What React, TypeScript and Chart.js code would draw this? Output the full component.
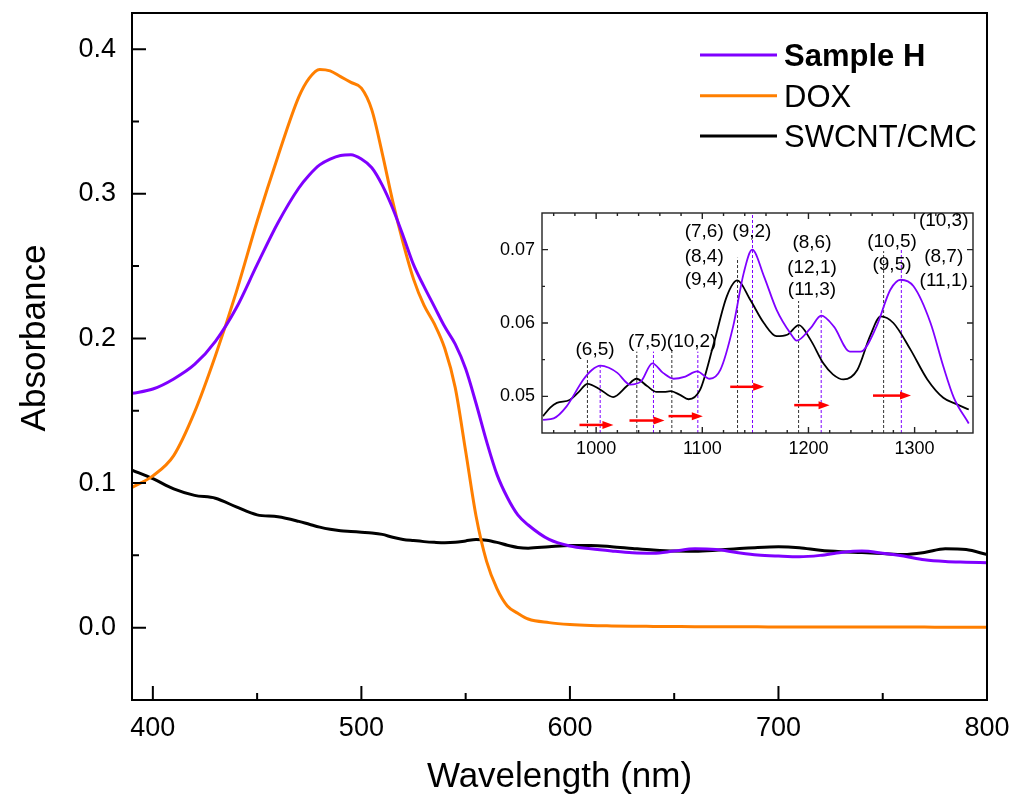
import React, { useEffect, useRef } from "react";
import { Chart, registerables } from "chart.js";
Chart.register(...registerables);

const FONT = 'Arial, "Liberation Sans", sans-serif';
const PURPLE = "#7F00FF";
const ORANGE = "#FF7F00";
const BLACK = "#000000";

// ---------- main chart data ----------
const WL = [390, 400, 410, 420, 430, 440, 450, 460, 470, 475, 480, 485, 490, 495, 500, 505, 510, 515, 520, 525, 530, 535, 540, 545, 550, 555, 560, 565, 570, 575, 580, 590, 600, 610, 620, 630, 640, 650, 660, 670, 680, 690, 700, 710, 720, 730, 740, 750, 760, 770, 780, 790, 800];
const SAMPLE_H = [0.162, 0.165, 0.172, 0.182, 0.198, 0.221, 0.251, 0.28, 0.304, 0.313, 0.32, 0.324, 0.3265, 0.327, 0.324, 0.318, 0.306, 0.29, 0.271, 0.251, 0.236, 0.222, 0.208, 0.196, 0.179, 0.155, 0.129, 0.106, 0.09, 0.078, 0.071, 0.061, 0.0565, 0.0545, 0.053, 0.0518, 0.0515, 0.053, 0.0545, 0.054, 0.052, 0.0503, 0.0495, 0.049, 0.05, 0.052, 0.053, 0.0515, 0.0495, 0.047, 0.0458, 0.0453, 0.0449];
const DOX = [0.097, 0.105, 0.119, 0.149, 0.188, 0.232, 0.281, 0.326, 0.367, 0.38, 0.386, 0.385, 0.381, 0.377, 0.373, 0.358, 0.328, 0.295, 0.266, 0.241, 0.223, 0.21, 0.193, 0.166, 0.122, 0.077, 0.046, 0.027, 0.015, 0.01, 0.006, 0.0035, 0.0022, 0.0015, 0.0012, 0.001, 0.0009, 0.0008, 0.0007, 0.0007, 0.0006, 0.0006, 0.0005, 0.0005, 0.0005, 0.0005, 0.0004, 0.0004, 0.0004, 0.0004, 0.0003, 0.0003, 0.0003];
const SWCNT_CMC = [0.109, 0.103, 0.096, 0.0915, 0.0895, 0.0835, 0.078, 0.0767, 0.0735, 0.0715, 0.0695, 0.068, 0.067, 0.0665, 0.066, 0.0655, 0.0645, 0.0625, 0.061, 0.0602, 0.0595, 0.059, 0.0587, 0.059, 0.06, 0.061, 0.0605, 0.059, 0.057, 0.0555, 0.055, 0.056, 0.0568, 0.0568, 0.056, 0.0548, 0.0537, 0.053, 0.0529, 0.0535, 0.0545, 0.0555, 0.056, 0.0553, 0.0535, 0.0525, 0.052, 0.0513, 0.0506, 0.052, 0.0546, 0.054, 0.0506];

const X_MAJOR = [400, 500, 600, 700, 800];
const X_MINOR = [450, 550, 650, 750];
const Y_MAJOR = [0, 0.1, 0.2, 0.3, 0.4];
const Y_MINOR = [0.05, 0.15, 0.25, 0.35];

const LEGEND_LABELS = ["Sample H", "DOX", "SWCNT/CMC"];
const LEGEND_COLORS = [PURPLE, ORANGE, BLACK];

// ---------- inset data ----------
const INSET_H_WL = [950, 960, 972, 988, 996, 1004, 1012, 1020, 1032, 1042, 1053, 1063, 1073, 1084, 1095, 1107, 1117, 1129, 1139, 1147, 1158, 1170, 1183, 1189, 1202, 1212, 1224, 1239, 1249, 1264, 1277, 1287, 1299, 1315, 1327, 1337, 1351];
const INSET_H_ABS = [0.0468, 0.047, 0.0486, 0.0523, 0.0536, 0.0542, 0.0539, 0.0532, 0.0516, 0.052, 0.0545, 0.0532, 0.0524, 0.0527, 0.0534, 0.0524, 0.0536, 0.0595, 0.0668, 0.07, 0.0664, 0.0618, 0.0586, 0.0576, 0.0593, 0.061, 0.0595, 0.0561, 0.0561, 0.0595, 0.0645, 0.0659, 0.065, 0.06, 0.0541, 0.0498, 0.0463];
const INSET_C_WL = [950, 957, 963, 975, 983, 992, 1004, 1016, 1029, 1038, 1048, 1057, 1064, 1070, 1079, 1087, 1098, 1111, 1123, 1133, 1145, 1158, 1170, 1180, 1191, 1202, 1214, 1223, 1233, 1246, 1258, 1268, 1280, 1296, 1312, 1327, 1340, 1351];
const INSET_C_ABS = [0.0473, 0.0485, 0.0491, 0.0495, 0.0505, 0.0517, 0.0509, 0.0499, 0.0514, 0.0524, 0.0514, 0.0506, 0.0506, 0.0507, 0.0502, 0.0496, 0.0509, 0.0573, 0.0636, 0.0658, 0.0632, 0.06, 0.0582, 0.0584, 0.0597, 0.0577, 0.0545, 0.053, 0.0523, 0.0536, 0.0582, 0.0609, 0.06, 0.0564, 0.0523, 0.0498, 0.0489, 0.0482];

const INSET_X_MAJOR = [1000, 1100, 1200, 1300];
const INSET_X_MINOR = [960, 980, 1020, 1040, 1060, 1080, 1120, 1140, 1160, 1180, 1220, 1240, 1260, 1280, 1320, 1340];
const INSET_Y_MAJOR = [0.05, 0.06, 0.07];
const INSET_Y_MINOR = [0.055, 0.065];

const PEAK_C_WL = [991.8, 1038.3, 1071.3, 1133.2, 1190.7, 1270.8];
const PEAK_C_TOP = [0.0552, 0.0561, 0.0566, 0.0689, 0.063, 0.0698];
const PEAK_H_WL = [1003.8, 1054, 1095.8, 1147.3, 1212, 1287.5];
const PEAK_H_TOP = [0.0542, 0.0561, 0.0561, 0.075, 0.062, 0.07];

const ARROW_FROM = [984.3, 1031.4, 1068.2, 1126.3, 1186.6, 1260.8];
const ARROW_TO = [1016.3, 1064.4, 1100.5, 1158.3, 1219.9, 1296.6];
const ARROW_Y = [0.0461, 0.0467, 0.0473, 0.0513, 0.0488, 0.0501];

const CHIRAL_TEXT = ["(6,5)", "(7,5)", "(10,2)", "(7,6)", "(8,4)", "(9,4)", "(9,2)", "(8,6)", "(12,1)", "(11,3)", "(10,5)", "(9,5)", "(10,3)", "(8,7)", "(11,1)"];
const CHIRAL_WL = [999, 1048.4, 1090, 1101.8, 1101.8, 1101.8, 1146.7, 1203.3, 1203.3, 1203.3, 1278.7, 1278.7, 1327.4, 1327.4, 1327.4];
const CHIRAL_ABS = [0.0564, 0.0575, 0.0575, 0.0725, 0.0691, 0.0659, 0.0725, 0.0709, 0.0676, 0.0645, 0.0711, 0.068, 0.0739, 0.0691, 0.0657];

const pts = (xs: number[], ys: number[]) => xs.map((x, i) => ({ x, y: ys[i] }));
const zeroPad = (s: any) => { s.paddingTop = 0; s.paddingBottom = 0; s.paddingLeft = 0; s.paddingRight = 0; };

const mainDecor = {
  id: "mainDecor",
  afterDraw(chart: any) {
    const { ctx, chartArea: a, scales } = chart;
    const x = scales.x, y = scales.y;
    ctx.save();
    ctx.strokeStyle = "#000";
    ctx.lineWidth = 2;
    ctx.strokeRect(a.left, a.top, a.right - a.left, a.bottom - a.top);
    ctx.beginPath();
    X_MAJOR.forEach((v) => { const p = x.getPixelForValue(v); ctx.moveTo(p, a.bottom); ctx.lineTo(p, a.bottom - 14); });
    X_MINOR.forEach((v) => { const p = x.getPixelForValue(v); ctx.moveTo(p, a.bottom); ctx.lineTo(p, a.bottom - 7); });
    Y_MAJOR.forEach((v) => { const p = y.getPixelForValue(v); ctx.moveTo(a.left, p); ctx.lineTo(a.left + 14, p); });
    Y_MINOR.forEach((v) => { const p = y.getPixelForValue(v); ctx.moveTo(a.left, p); ctx.lineTo(a.left + 7, p); });
    ctx.stroke();

    ctx.fillStyle = "#000";
    ctx.font = `35px ${FONT}`;
    ctx.textAlign = "center";
    ctx.textBaseline = "alphabetic";
    ctx.fillText("Wavelength (nm)", (a.left + a.right) / 2, 787);
    ctx.save();
    ctx.translate(45, 338);
    ctx.rotate(-Math.PI / 2);
    ctx.fillText("Absorbance", 0, 0);
    ctx.restore();

    // legend
    const lineY = [55, 95.7, 136];
    ctx.textAlign = "left";
    LEGEND_LABELS.forEach((lab, i) => {
      ctx.strokeStyle = LEGEND_COLORS[i];
      ctx.lineWidth = 3;
      ctx.beginPath();
      ctx.moveTo(700, lineY[i]);
      ctx.lineTo(777, lineY[i]);
      ctx.stroke();
      ctx.fillStyle = "#000";
      ctx.font = `${i === 0 ? "bold " : ""}31px ${FONT}`;
      ctx.fillText(lab, 784, lineY[i] + 11);
    });
    ctx.restore();
  },
};

const insetDecor = {
  id: "insetDecor",
  beforeDatasetsDraw(chart: any) {
    const { ctx, scales } = chart;
    const x = scales.x, y = scales.y;
    const bottom = chart.chartArea.bottom;
    ctx.save();
    ctx.lineWidth = 1;
    ctx.setLineDash([3, 2]);
    ctx.strokeStyle = "#333";
    PEAK_C_WL.forEach((v, i) => {
      const p = x.getPixelForValue(v);
      ctx.beginPath(); ctx.moveTo(p, bottom); ctx.lineTo(p, y.getPixelForValue(PEAK_C_TOP[i])); ctx.stroke();
    });
    ctx.strokeStyle = PURPLE;
    PEAK_H_WL.forEach((v, i) => {
      const p = x.getPixelForValue(v);
      ctx.beginPath(); ctx.moveTo(p, bottom); ctx.lineTo(p, y.getPixelForValue(PEAK_H_TOP[i])); ctx.stroke();
    });
    ctx.restore();
  },
  afterDraw(chart: any) {
    const { ctx, chartArea: a, scales } = chart;
    const x = scales.x, y = scales.y;
    ctx.save();
    ctx.strokeStyle = "#222";
    ctx.lineWidth = 1.4;
    ctx.strokeRect(a.left, a.top, a.right - a.left, a.bottom - a.top);
    ctx.beginPath();
    const tx = (vals: number[], len: number) => vals.forEach((v) => {
      const p = x.getPixelForValue(v);
      ctx.moveTo(p, a.bottom); ctx.lineTo(p, a.bottom - len);
      ctx.moveTo(p, a.top); ctx.lineTo(p, a.top + len);
    });
    const ty = (vals: number[], len: number) => vals.forEach((v) => {
      const p = y.getPixelForValue(v);
      ctx.moveTo(a.left, p); ctx.lineTo(a.left + len, p);
      ctx.moveTo(a.right, p); ctx.lineTo(a.right - len, p);
    });
    tx(INSET_X_MAJOR, 6); tx(INSET_X_MINOR, 3);
    ty(INSET_Y_MAJOR, 6); ty(INSET_Y_MINOR, 3);
    ctx.stroke();

    // arrows
    ctx.strokeStyle = "#FF0000";
    ctx.fillStyle = "#FF0000";
    ctx.lineWidth = 2.5;
    ARROW_FROM.forEach((v, i) => {
      const x1 = x.getPixelForValue(v);
      const x2 = x.getPixelForValue(ARROW_TO[i]);
      const py = y.getPixelForValue(ARROW_Y[i]);
      ctx.beginPath(); ctx.moveTo(x1, py); ctx.lineTo(x2 - 8, py); ctx.stroke();
      ctx.beginPath(); ctx.moveTo(x2, py); ctx.lineTo(x2 - 11, py - 4); ctx.lineTo(x2 - 11, py + 4); ctx.closePath(); ctx.fill();
    });

    // chirality labels
    ctx.fillStyle = "#000";
    ctx.font = `19px ${FONT}`;
    ctx.textAlign = "center";
    ctx.textBaseline = "middle";
    CHIRAL_TEXT.forEach((t, i) => {
      ctx.fillText(t, x.getPixelForValue(CHIRAL_WL[i]), y.getPixelForValue(CHIRAL_ABS[i]));
    });
    ctx.restore();
  },
};

export default function App() {
  const mainRef = useRef<HTMLCanvasElement>(null);
  const insetRef = useRef<HTMLCanvasElement>(null);

  useEffect(() => {
    const main = new Chart(mainRef.current as HTMLCanvasElement, {
      type: "line",
      data: {
        datasets: [
          { label: "Sample H", data: pts(WL, SAMPLE_H), borderColor: PURPLE, borderWidth: 3, pointRadius: 0, cubicInterpolationMode: "monotone" },
          { label: "DOX", data: pts(WL, DOX), borderColor: ORANGE, borderWidth: 3, pointRadius: 0, cubicInterpolationMode: "monotone" },
          { label: "SWCNT/CMC", data: pts(WL, SWCNT_CMC), borderColor: BLACK, borderWidth: 3, pointRadius: 0, cubicInterpolationMode: "monotone" },
        ],
      } as any,
      options: {
        responsive: false,
        animation: false,
        devicePixelRatio: 1,
        layout: { padding: { left: 0, right: 24, top: 13, bottom: 0 } },
        plugins: { legend: { display: false }, tooltip: { enabled: false } },
        scales: {
          x: {
            type: "linear", min: 390, max: 800,
            grid: { display: false, drawTicks: false }, border: { display: false },
            afterBuildTicks: (s: any) => { s.ticks = X_MAJOR.map((v) => ({ value: v })); },
            afterFit: (s: any) => { s.height = 98; zeroPad(s); },
            ticks: { color: "#000", font: { family: FONT, size: 27 }, padding: 12, autoSkip: false, maxRotation: 0, callback: (v: any) => String(v) },
          },
          y: {
            type: "linear", min: -0.05, max: 0.425,
            grid: { display: false, drawTicks: false }, border: { display: false },
            afterBuildTicks: (s: any) => { s.ticks = Y_MAJOR.map((v) => ({ value: v })); },
            afterFit: (s: any) => { s.width = 132; zeroPad(s); },
            ticks: { color: "#000", font: { family: FONT, size: 27 }, padding: 16, autoSkip: false, callback: (v: any) => Number(v).toFixed(1) },
          },
        },
      } as any,
      plugins: [mainDecor],
    });

    const inset = new Chart(insetRef.current as HTMLCanvasElement, {
      type: "line",
      data: {
        datasets: [
          { label: "Sample H", data: pts(INSET_H_WL, INSET_H_ABS), borderColor: PURPLE, borderWidth: 1.8, pointRadius: 0, cubicInterpolationMode: "monotone" },
          { label: "SWCNT/CMC", data: pts(INSET_C_WL, INSET_C_ABS), borderColor: BLACK, borderWidth: 1.8, pointRadius: 0, cubicInterpolationMode: "monotone" },
        ],
      } as any,
      options: {
        responsive: false,
        animation: false,
        devicePixelRatio: 1,
        layout: { padding: { left: 0, right: 17, top: 18, bottom: 0 } },
        plugins: { legend: { display: false }, tooltip: { enabled: false } },
        scales: {
          x: {
            type: "linear", min: 949, max: 1355,
            grid: { display: false, drawTicks: false }, border: { display: false },
            afterBuildTicks: (s: any) => { s.ticks = INSET_X_MAJOR.map((v) => ({ value: v })); },
            afterFit: (s: any) => { s.height = 37; zeroPad(s); },
            ticks: { color: "#000", font: { family: FONT, size: 18 }, padding: 5, autoSkip: false, maxRotation: 0, callback: (v: any) => String(v) },
          },
          y: {
            type: "linear", min: 0.045, max: 0.075,
            grid: { display: false, drawTicks: false }, border: { display: false },
            afterBuildTicks: (s: any) => { s.ticks = INSET_Y_MAJOR.map((v) => ({ value: v })); },
            afterFit: (s: any) => { s.width = 62; zeroPad(s); },
            ticks: { color: "#000", font: { family: FONT, size: 18 }, padding: 7, autoSkip: false, callback: (v: any) => Number(v).toFixed(2) },
          },
        },
      } as any,
      plugins: [insetDecor],
    });

    return () => {
      main.destroy();
      inset.destroy();
    };
  }, []);

  return (
    <div style={{ position: "fixed", left: 0, top: 0, width: 1011, height: 798, background: "#fff" }}>
      <canvas ref={mainRef} width={1011} height={798} style={{ position: "absolute", left: 0, top: 0 }} />
      <canvas ref={insetRef} width={510} height={275} style={{ position: "absolute", left: 480, top: 195 }} />
    </div>
  );
}
